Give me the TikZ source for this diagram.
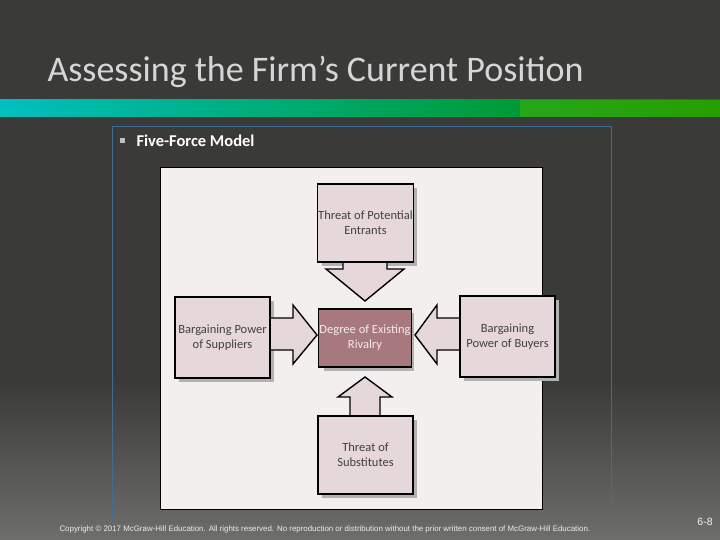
\documentclass[tikz,border=0pt]{standalone}
\usepackage{fontspec}
\setmainfont{Carlito}
\newfontfamily\arialf{Liberation Sans}
\definecolor{bgtop}{HTML}{3A3A38}
\definecolor{bgbot}{HTML}{6E6E6C}
\definecolor{boxfill}{HTML}{E6D8DA}
\definecolor{midfill}{HTML}{A8787F}
\definecolor{panel}{HTML}{F4EFEF}
\definecolor{frameblue}{HTML}{3D6E9A}
\tikzset{
  x=1pt,y=-1pt,
  force/.style={draw=black,line width=1.4pt,fill=boxfill},
  shad/.style={fill=black!30},
  lbl/.style={font=\fontsize{12.5}{15}\selectfont,text=black!75,align=center,inner sep=1pt},
}
\begin{document}
\begin{tikzpicture}
\useasboundingbox (0,0) rectangle (720,540);
\fill[bgtop] (0,0) rectangle (720,540);
\shade[top color=bgtop,bottom color=bgbot] (0,380) rectangle (720,540);
% banner
\shade[left color=cyan!50!teal,right color=green!55!black] (0,100) rectangle (720,117);
\fill[green!40!olive,opacity=.5] (520,100) rectangle (720,117);
\node[anchor=west,text=black!10!white!85!gray,font=\fontsize{36}{40}\selectfont] (title) at (44,72) {Assessing the Firm’s Current Position};
\draw[frameblue,line width=0.8pt] (112,126) rectangle (611,521);
\fill[black!25!white] (120,138) rectangle (125,143);
\node[anchor=west,text=white,font=\bfseries\fontsize{16.5}{18}\selectfont] (bullet) at (133,141) {Five-Force Model};
% panel
\draw[black,line width=1pt,fill=panel] (160,168) rectangle (542,509);
% shadows
\fill[shad] (322,188) rectangle (417,266);
\fill[shad] (179,301) rectangle (274,382);
\fill[shad] (464,300) rectangle (559,381);
\fill[shad] (322,420) rectangle (417,498);
\fill[shad] (324,313) rectangle (414,371);
% arrows
\draw[force] (343,262) -- (387,262) -- (387,269) -- (404,269) -- (365,301) -- (326,269) -- (343,269) -- cycle;
\draw[force] (350,416) -- (380,416) -- (380,397) -- (392,397) -- (365,377) -- (338,397) -- (350,397) -- cycle;
\draw[force] (270,318) -- (293,318) -- (293,305) -- (317,335) -- (293,364) -- (293,350) -- (270,350) -- cycle;
\draw[force] (460,318) -- (437,318) -- (437,305) -- (415,335) -- (437,364) -- (437,350) -- (460,350) -- cycle;
% boxes
\node[force,minimum width=95,minimum height=78,lbl] (pe) at (365.5,223) {Threat of Potential\\Entrants};
\node[force,minimum width=95,minimum height=81,lbl] (sup) at (222.5,337.5) {Bargaining Power\\of Suppliers};
\node[force,minimum width=95,minimum height=81,lbl] (buy) at (507.5,336.5) {Bargaining\\Power of Buyers};
\node[force,minimum width=95,minimum height=78,lbl] (sub) at (365.5,455) {Threat of\\Substitutes};
\node[force,fill=midfill,minimum width=90,minimum height=58,lbl,text=white!85!midfill] (riv) at (365,338) {Degree of Existing\\Rivalry};
% footer
\node[anchor=west,text=white!85!gray,font=\arialf\fontsize{7.9}{9}\selectfont] (copy) at (56,529) {Copyright © 2017 McGraw-Hill Education. All rights reserved. No reproduction or distribution without the prior written consent of McGraw-Hill Education.};
\node[text=white!90!gray,font=\arialf\fontsize{10.5}{12}\selectfont] (pg) at (705,522) {6-8};
\end{tikzpicture}
\end{document}
